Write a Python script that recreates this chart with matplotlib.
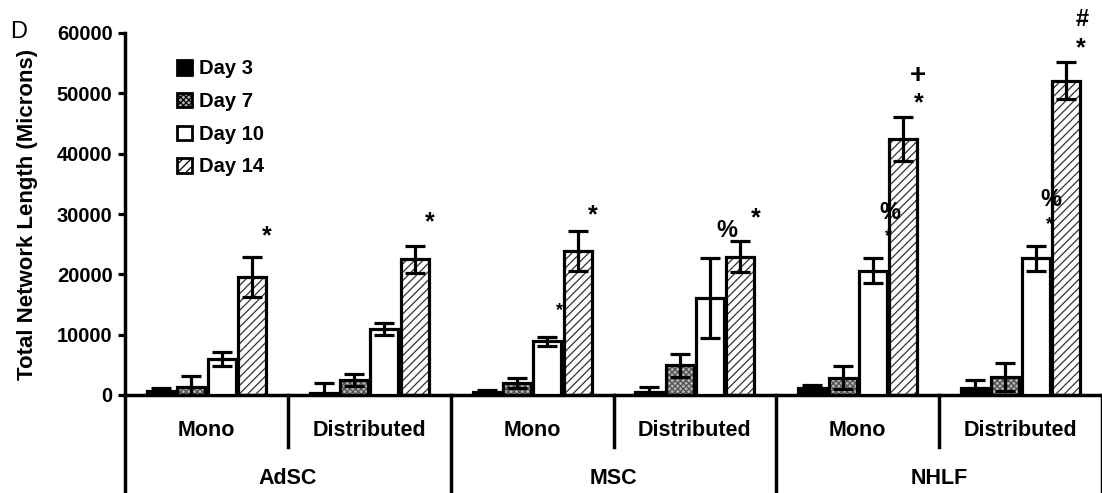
import matplotlib
matplotlib.use("Agg")
import matplotlib.pyplot as plt
from matplotlib.patches import Patch
from matplotlib.lines import Line2D
import matplotlib.transforms as mtransforms
import numpy as np

plt.rcParams['font.family'] = ['Liberation Sans', 'DejaVu Sans']
plt.rcParams['font.weight'] = 'bold'
plt.rcParams['hatch.linewidth'] = 0.9

# ---------------- data ----------------
subgroups = ["Mono", "Distributed", "Mono", "Distributed", "Mono", "Distributed"]
cell_types = ["AdSC", "MSC", "NHLF"]
series = ["Day 3", "Day 7", "Day 10", "Day 14"]

day3 = [700, 400, 500, 500, 1100, 1100]
day3_err = [400, 1600, 350, 900, 550, 1400]
day7 = [1400, 2500, 2000, 4900, 2900, 3000]
day7_err = [1750, 950, 880, 1850, 1950, 2300]
day10 = [5900, 11000, 8900, 16100, 20600, 22700]
day10_err = [1150, 1000, 700, 6600, 2070, 2070]
day14 = [19600, 22500, 23800, 22900, 42400, 52100]
day14_err = [3300, 2200, 3300, 2570, 3600, 3100]

yticks = [0, 10000, 20000, 30000, 40000, 50000, 60000]

values = [day3, day7, day10, day14]
errors = [day3_err, day7_err, day10_err, day14_err]

# annotations: (text, subgroup, bar index, value, size)
annotations = [
    ("*", 0, 3.5, 26300, 18), ("*", 1, 3.5, 28700, 18), ("*", 2, 3.5, 29800, 18),
    ("*", 3, 3.5, 29300, 18), ("%", 3, 2.57, 27300, 17),
    ("*", 2, 2.4, 14000, 13),
    ("+", 4, 3.5, 52800, 20), ("*", 4, 3.5, 48400, 18),
    ("%", 4, 2.55, 30300, 17), ("*", 4, 2.5, 26300, 13),
    ("#", 5, 3.55, 62300, 17), ("*", 5, 3.5, 57500, 18),
    ("%", 5, 2.5, 32400, 17), ("*", 5, 2.45, 28200, 13),
]

# ---------------- styles ----------------
face = ["black", "#b4b4b4", "white", "white"]
hatch = [None, "xxxxxx", None, "////"]
hatch_col = ["black", "#505050", "black", "#333333"]

fig = plt.figure(figsize=(11.02, 4.93), dpi=100)
ax = fig.add_axes([125 / 1102, 98 / 493, 977 / 1102, 362 / 493])

n = len(subgroups)
x = np.arange(n) + 0.5
step = 0.186
bw = 0.172
lw = 2.3

for i in range(4):
    xs = x + (i - 1.5) * step
    if hatch[i]:
        ax.bar(xs, values[i], bw, color=face[i], edgecolor=hatch_col[i],
               hatch=hatch[i], linewidth=0, zorder=2)
        ax.bar(xs, values[i], bw, fill=False, edgecolor="black",
               linewidth=lw, zorder=3)
    else:
        ax.bar(xs, values[i], bw, color=face[i], edgecolor="black",
               linewidth=lw, zorder=3)
    ax.errorbar(xs, values[i], yerr=errors[i], fmt="none", ecolor="black",
                elinewidth=2.3, capsize=7, capthick=2.3, zorder=4)

for txt, g, bi, val, sz in annotations:
    xx = x[g] + (bi - 1.5) * step
    ax.text(xx, val, txt, ha="center", va="center", fontsize=sz,
            fontweight="bold", zorder=5, clip_on=False)

ax.set_xlim(0, 6)
ax.set_ylim(0, 60000)
ax.set_yticks(yticks)
ax.set_yticklabels([str(v) for v in yticks], fontsize=14.5, fontweight="bold")
ax.tick_params(axis="y", direction="out", length=5, width=2.3, pad=4)
ax.tick_params(axis="x", length=0, labelbottom=False)
ax.spines["top"].set_visible(False)
ax.spines["right"].set_visible(False)
ax.spines["left"].set_linewidth(2.5)
ax.spines["bottom"].set_linewidth(2.5)
ax.set_ylabel("Total Network Length (Microns)", fontsize=16,
              fontweight="bold")
ax.yaxis.set_label_coords((28 - 125) / 977, 0.5)
ax.yaxis.label.set_va("center")

trans = mtransforms.blended_transform_factory(ax.transData, ax.transAxes)
short = -52 / 362
long_ = -99 / 362
for b in range(0, 7):
    y1 = long_ if b % 2 == 0 else short
    ax.add_line(Line2D([b, b], [0, y1], transform=trans, color="black",
                       linewidth=2.5, clip_on=False))
for g, lab in enumerate(subgroups):
    ax.text(g + 0.5, -35 / 362, lab, transform=trans, ha="center",
            va="center", fontsize=15.5, fontweight="bold")
for c, lab in enumerate(cell_types):
    ax.text(2 * c + 1, -83 / 362, lab, transform=trans, ha="center",
            va="center", fontsize=15.5, fontweight="bold")

handles = []
for i in range(4):
    handles.append(Patch(facecolor=face[i], edgecolor="black", hatch=hatch[i],
                         linewidth=2))
leg = ax.legend(handles, series, loc="upper left",
                bbox_to_anchor=(0.043, 0.955), frameon=False, borderpad=0,
                handlelength=0.72, handleheight=0.72, handletextpad=0.35,
                labelspacing=0.68, prop={"weight": "bold", "size": 14.5})

fig.text(10 / 1102, 1 - 32 / 493, "D", fontsize=17, fontweight="normal",
         va="center", ha="left")

fig.savefig("out.png", dpi=100)
